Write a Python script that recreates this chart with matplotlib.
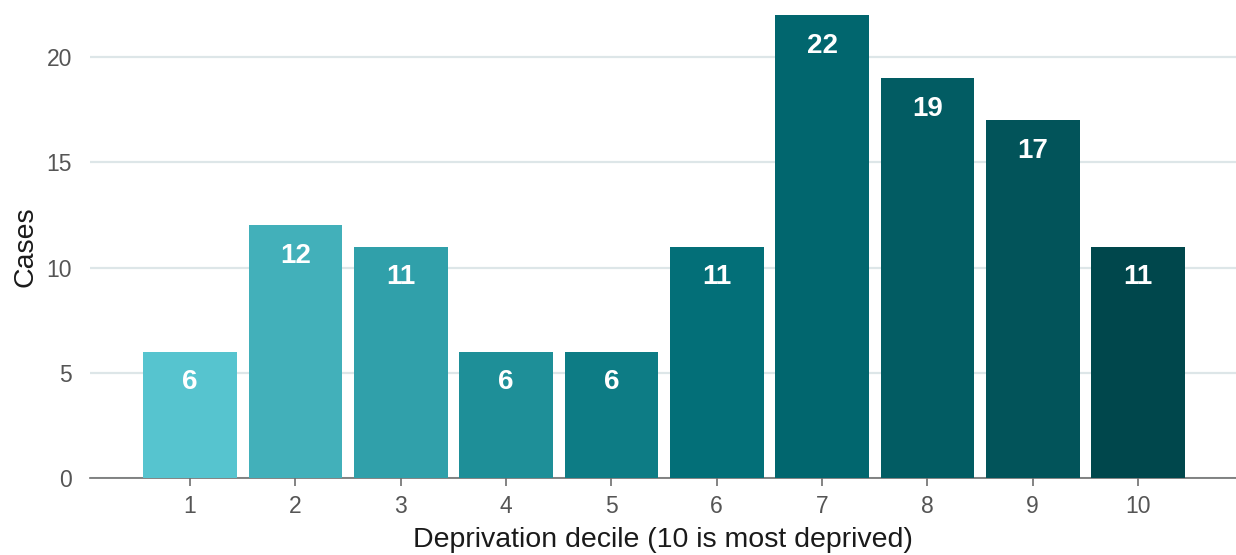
import matplotlib
matplotlib.use("Agg")
import matplotlib.pyplot as plt

deciles = [1, 2, 3, 4, 5, 6, 7, 8, 9, 10]
cases = [6, 12, 11, 6, 6, 11, 22, 19, 17, 11]
colors = ["#56C4CF", "#42B0BA", "#30A0AA", "#1E8F98", "#0D7C85",
          "#036F78", "#01666E", "#025C63", "#02545A", "#00474C"]
yticks = [0, 5, 10, 15, 20]

plt.rcParams['font.family'] = ['Liberation Sans', 'DejaVu Sans']

W, H = 1236, 555
fig = plt.figure(figsize=(W / 100, H / 100), dpi=100)
left, right, bottom, top = 90, 1236, 478, 15
ax = fig.add_axes([left / W, 1 - bottom / H, (right - left) / W, (bottom - top) / H])

bars = ax.bar(deciles, cases, width=0.89, color=colors, zorder=3)
for x, v in zip(deciles, cases):
    ax.annotate(str(v), (x, v), xytext=(0, -22), textcoords="offset points",
                ha="center", va="center", color="white", fontsize=20,
                fontweight="bold", zorder=4)

ax.set_xlim(0.05, 10.93)
ax.set_ylim(0, 22)
ax.set_xticks(deciles)
ax.set_yticks(yticks)
ax.yaxis.grid(True, color="#DDE6E8", linewidth=1.6, zorder=0)
ax.xaxis.grid(False)
for s in ["top", "right", "left"]:
    ax.spines[s].set_visible(False)
ax.spines["bottom"].set_color("#6E6E6E")
ax.spines["bottom"].set_linewidth(1.2)
ax.tick_params(axis="x", length=6, width=1.2, color="#6E6E6E", labelsize=16.5,
               labelcolor="#555555", pad=6)
ax.tick_params(axis="y", length=0, labelsize=16.5, labelcolor="#555555", pad=13)
ax.set_xlabel("Deprivation decile (10 is most deprived)", fontsize=20.5,
              color="#1a1a1a", labelpad=7)
ax.set_ylabel("Cases", fontsize=20.5, color="#1a1a1a", labelpad=6)

fig.savefig("out.png", dpi=100)
